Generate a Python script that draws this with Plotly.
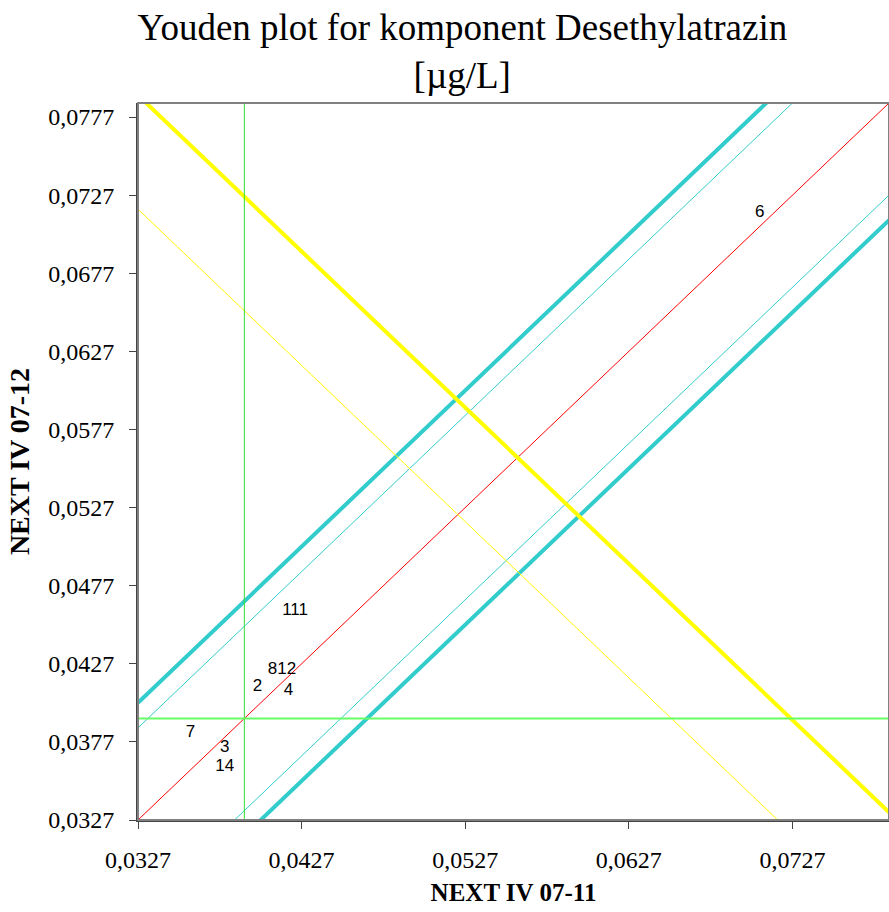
import plotly.graph_objects as go

# --- data ---
labels = ["111", "812", "2", "4", "7", "3", "14", "6"]
x_vals = [0.0423, 0.0415, 0.0400, 0.0419, 0.0359, 0.0380, 0.0380, 0.0707]
y_vals = [0.0461, 0.0423, 0.0412, 0.0410, 0.0383, 0.0373, 0.0361, 0.0716]

median_x = 0.0392
median_y = 0.0392

axis_min = 0.0327
axis_max = 0.0786
x_tick_vals = [0.0327, 0.0427, 0.0527, 0.0627, 0.0727]
y_tick_vals = [0.0327, 0.0377, 0.0427, 0.0477, 0.0527, 0.0577, 0.0627, 0.0677, 0.0727, 0.0777]

# diagonal lines y = x + offset
diag_offsets = [0.0, 0.0059, -0.0059, 0.0075, -0.0075]
diag_colors = ["#FF0000", "#33CCCC", "#33CCCC", "#33CCCC", "#33CCCC"]
diag_widths = [1, 1, 1, 4, 4]

# anti-diagonal lines x + y = s
anti_sums = [0.1045, 0.1118]
anti_colors = ["#FFFF00", "#FFFF00"]
anti_widths = [1, 4]

fig = go.Figure()

xs = [axis_min, axis_max]
for off, col, w in zip(diag_offsets, diag_colors, diag_widths):
    fig.add_trace(go.Scatter(x=xs, y=[v + off for v in xs], mode="lines",
                             line=dict(color=col, width=w), hoverinfo="skip"))
for s, col, w in zip(anti_sums, anti_colors, anti_widths):
    fig.add_trace(go.Scatter(x=xs, y=[s - v for v in xs], mode="lines",
                             line=dict(color=col, width=w), hoverinfo="skip"))

# median lines
fig.add_trace(go.Scatter(x=[median_x, median_x], y=[axis_min, axis_max], mode="lines",
                         line=dict(color="#33DD33", width=1), hoverinfo="skip"))
fig.add_trace(go.Scatter(x=[axis_min, axis_max], y=[median_y, median_y], mode="lines",
                         line=dict(color="#66FF66", width=2), hoverinfo="skip"))

# lab labels
fig.add_trace(go.Scatter(x=x_vals, y=y_vals, mode="text", text=labels,
                         textposition="middle center",
                         textfont=dict(family="Liberation Sans, Arial", size=17, color="black")))

fmt = lambda v: ("%.4f" % v).replace(".", ",")
serif = "Liberation Serif, Times New Roman"

fig.update_layout(
    width=889, height=912,
    paper_bgcolor="white", plot_bgcolor="white",
    showlegend=False,
    margin=dict(l=138, r=0, t=103, b=92),
    title=dict(text="Youden plot for komponent Desethylatrazin<br>[µg/L]",
               x=0.52, xanchor="center", y=1 - 40 / 912, yanchor="middle",
               font=dict(family=serif, size=37, color="black")),
    xaxis=dict(range=[axis_min, axis_max], tickvals=x_tick_vals,
               ticktext=[fmt(v) for v in x_tick_vals],
               showgrid=False, zeroline=False, showline=True, linecolor="#444444", linewidth=2,
               ticks="outside", ticklen=7, tickcolor="#444444", tickwidth=1,
               ticklabelstandoff=10,
               tickfont=dict(family=serif, size=24, color="black"),
               title=dict(text="<b>NEXT IV 07-11</b>", standoff=12,
                          font=dict(family=serif, size=25, color="black"))),
    yaxis=dict(range=[axis_min, axis_max], tickvals=y_tick_vals,
               ticktext=[fmt(v) for v in y_tick_vals],
               showgrid=False, zeroline=False, showline=True, linecolor="#444444", linewidth=2,
               ticks="outside", ticklen=7, tickcolor="#444444", tickwidth=1,
               ticklabelstandoff=10,
               tickfont=dict(family=serif, size=24, color="black"),
               title=dict(text="<b>NEXT IV 07-12</b>", standoff=10,
                          font=dict(family=serif, size=28, color="black"))),
    shapes=[dict(type="rect", xref="paper", yref="paper", x0=0, x1=1, y0=0, y1=1,
                 line=dict(color="#808080", width=2), layer="above")],
)

fig.write_html("out.html", config={"displayModeBar": False},
               post_script="document.body.style.margin='0';")
